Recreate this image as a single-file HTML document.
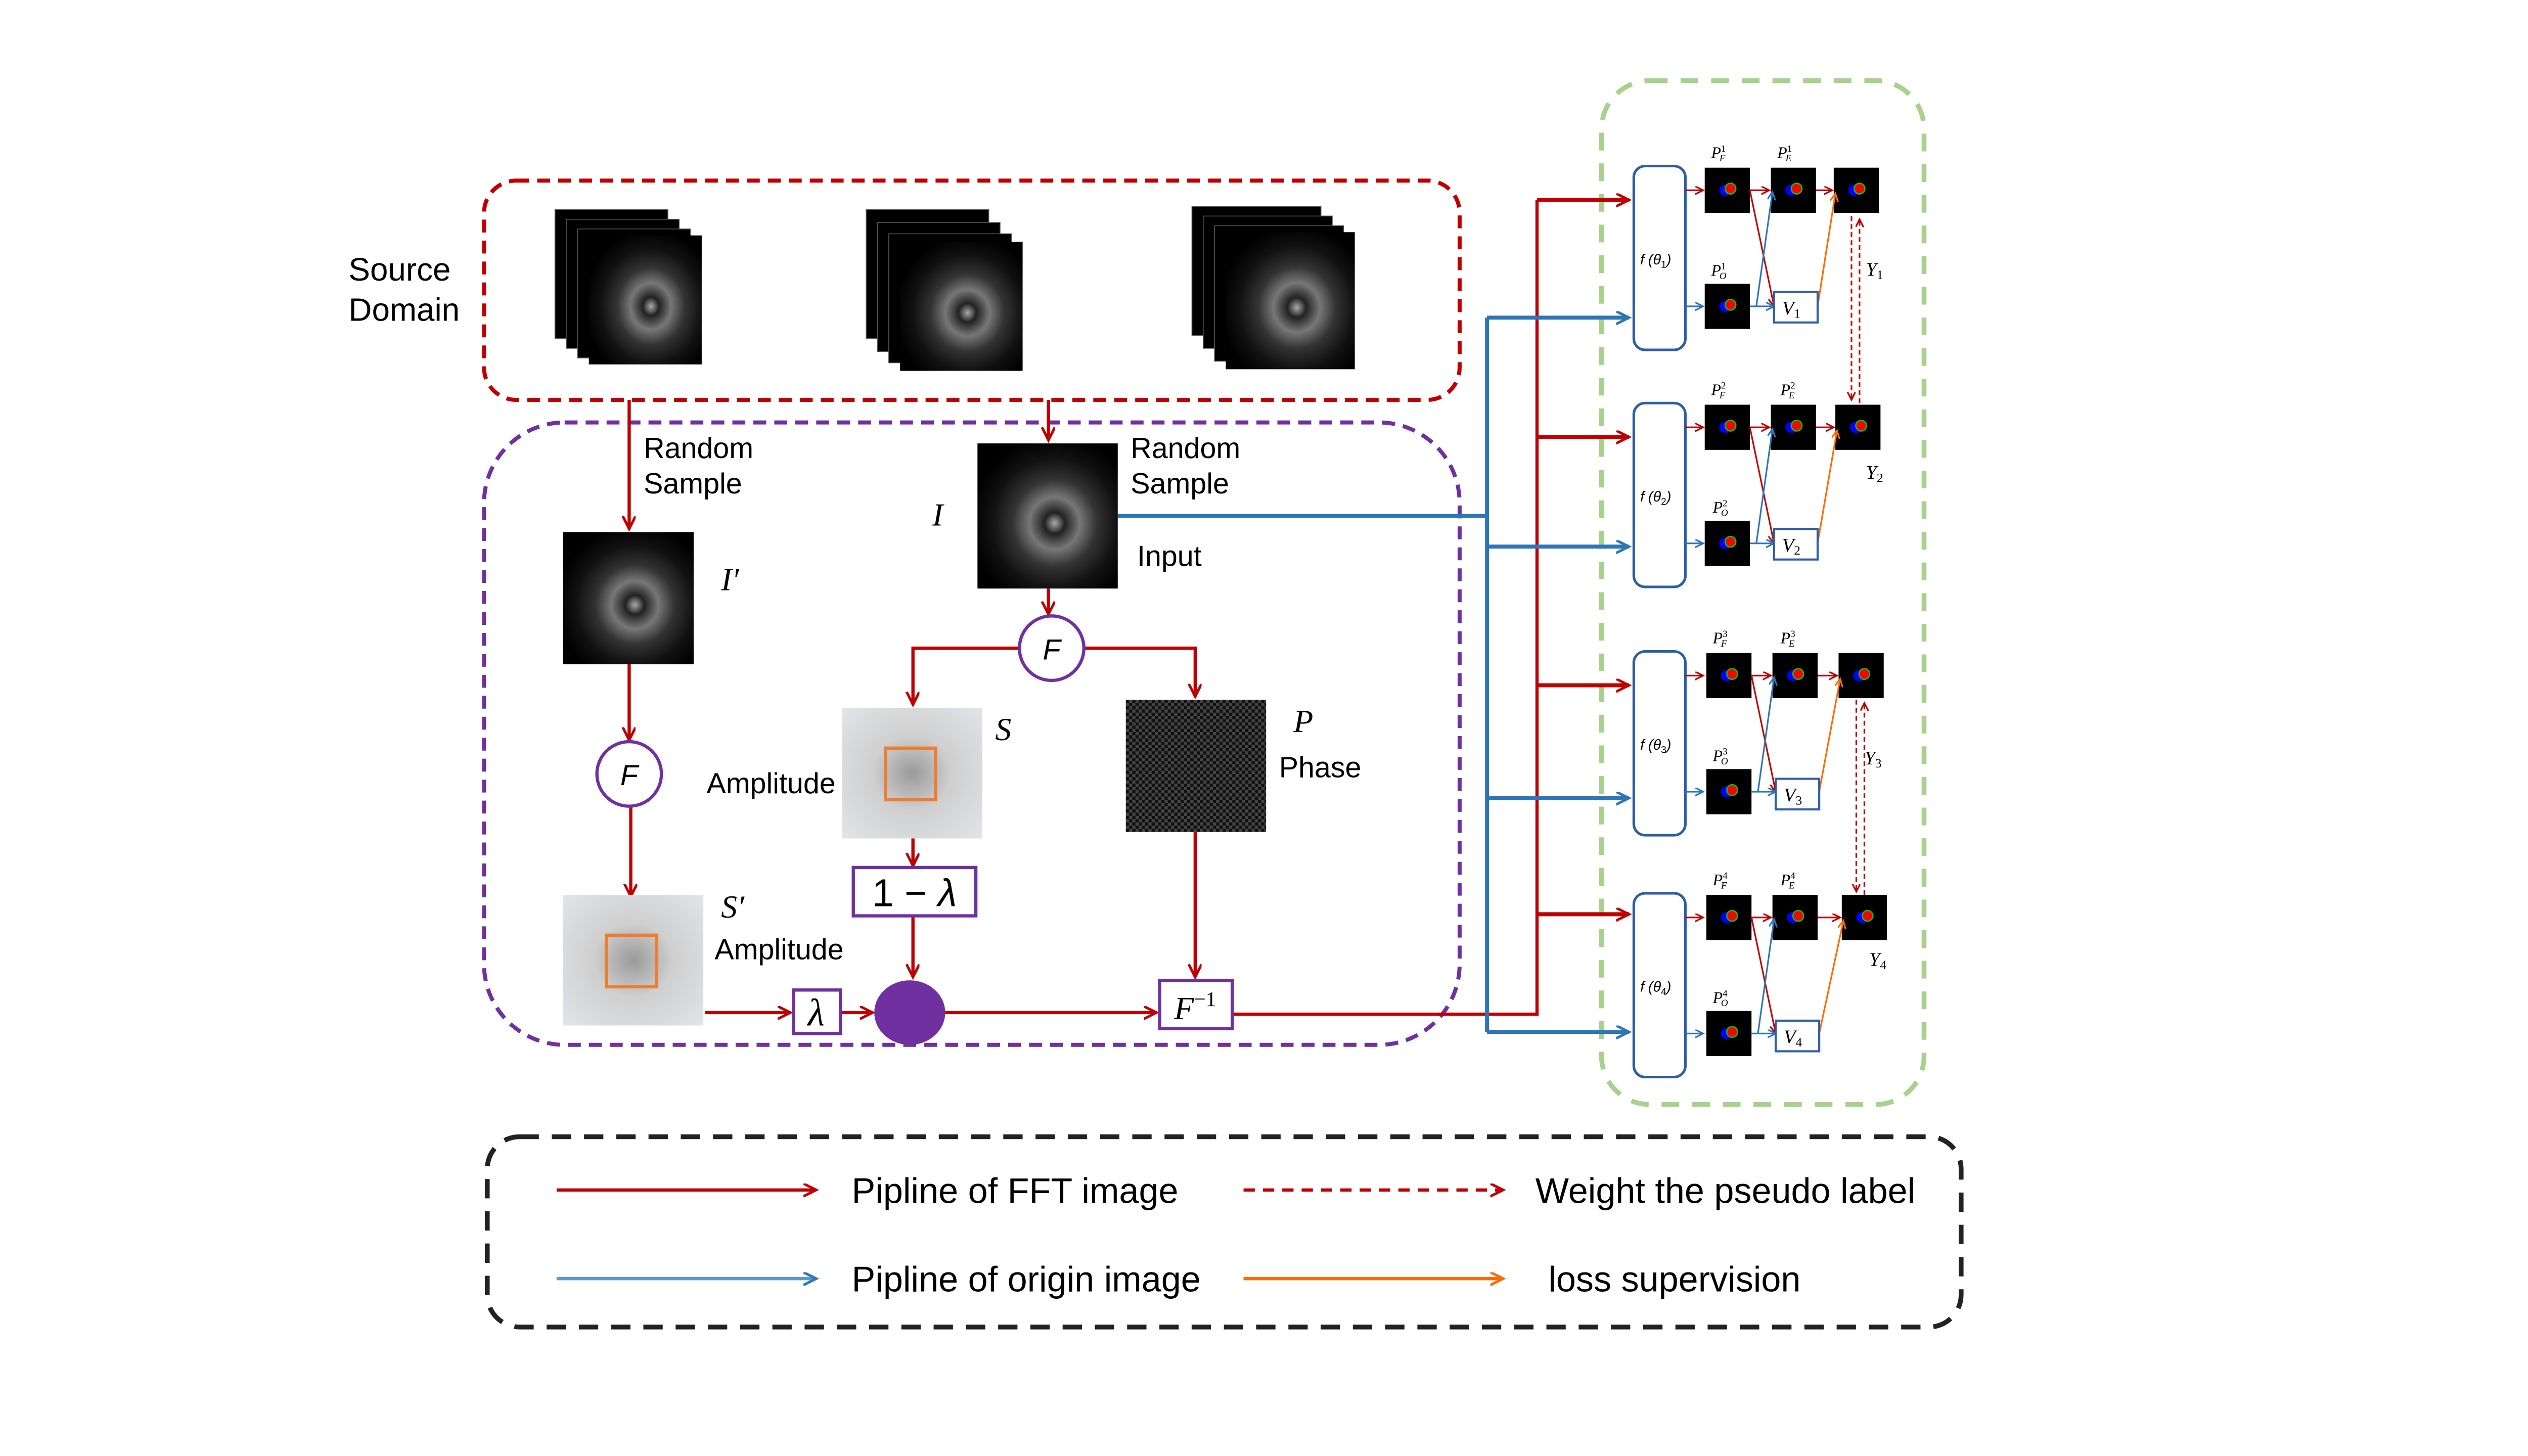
<!DOCTYPE html>
<html><head><meta charset="utf-8">
<style>html,body{margin:0;padding:0;background:#fff}svg{display:block}
text{font-family:"Liberation Sans",sans-serif}
.m{font-family:"Liberation Serif",serif;font-style:italic}</style></head>
<body>
<svg width="5120" height="2880" viewBox="0 0 1605 903" xmlns="http://www.w3.org/2000/svg">
<defs>
<marker id="ar" markerWidth="10" markerHeight="10" refX="8" refY="4" orient="auto" markerUnits="userSpaceOnUse"><path d="M0,0 L8,4 L0,8" fill="none" stroke="#c00000" stroke-width="1.6"/></marker>
<marker id="ab" markerWidth="10" markerHeight="10" refX="8" refY="4" orient="auto" markerUnits="userSpaceOnUse"><path d="M0,0 L8,4 L0,8" fill="none" stroke="#2e75b6" stroke-width="1.6"/></marker>
<marker id="ao" markerWidth="10" markerHeight="10" refX="8" refY="4" orient="auto" markerUnits="userSpaceOnUse"><path d="M0,0 L8,4 L0,8" fill="none" stroke="#ff6a00" stroke-width="1.6"/></marker>
<marker id="sr" markerWidth="6" markerHeight="6" refX="5" refY="2.5" orient="auto" markerUnits="userSpaceOnUse"><path d="M0,0 L5,2.5 L0,5" fill="none" stroke="#c00000" stroke-width="1"/></marker>
<marker id="sb" markerWidth="6" markerHeight="6" refX="5" refY="2.5" orient="auto" markerUnits="userSpaceOnUse"><path d="M0,0 L5,2.5 L0,5" fill="none" stroke="#2e75b6" stroke-width="1"/></marker>
<marker id="so" markerWidth="6" markerHeight="6" refX="5" refY="2.5" orient="auto" markerUnits="userSpaceOnUse"><path d="M0,0 L5,2.5 L0,5" fill="none" stroke="#ff6a00" stroke-width="1"/></marker>
<radialGradient id="mri" cx="0.55" cy="0.55" r="0.6"><stop offset="0" stop-color="#aaa"/><stop offset="0.12" stop-color="#222"/><stop offset="0.3" stop-color="#777"/><stop offset="0.5" stop-color="#333"/><stop offset="0.75" stop-color="#111"/><stop offset="1" stop-color="#000"/></radialGradient>
<radialGradient id="amp" cx="0.5" cy="0.5" r="0.7"><stop offset="0" stop-color="#9a9a9a"/><stop offset="0.4" stop-color="#cfcfcf"/><stop offset="1" stop-color="#e2e4e8"/></radialGradient>
<pattern id="chk" width="4" height="4" patternUnits="userSpaceOnUse"><rect width="4" height="4" fill="#444"/><rect width="2" height="2" fill="#111"/><rect x="2" y="2" width="2" height="2" fill="#111"/></pattern>
<g id="seg"><rect width="28" height="28" fill="#000"/><ellipse cx="13" cy="14" rx="4" ry="3.5" fill="#00f"/><circle cx="16" cy="13" r="3.3" fill="#f00" stroke="#0c0" stroke-width="0.8"/></g>
</defs>

<rect x="300" y="112" width="605" height="136" rx="20" fill="none" stroke="#c00000" stroke-width="2.5" stroke-dasharray="8,5"/>
<rect x="300" y="262" width="605" height="386" rx="50" fill="none" stroke="#7030a0" stroke-width="2.5" stroke-dasharray="8,5"/>
<rect x="993" y="50" width="200" height="635" rx="30" fill="none" stroke="#a9d18e" stroke-width="3" stroke-dasharray="11,8"/>
<rect x="302" y="705" width="914" height="118" rx="20" fill="none" stroke="#222" stroke-width="3" stroke-dasharray="12,8"/>

<text x="216" y="174" font-size="20">Source</text>
<text x="216" y="199" font-size="20">Domain</text>

<g><rect x="344" y="130" width="70" height="80" fill="#000" stroke="#555" stroke-width="0.5"/><rect x="351" y="136" width="70" height="80" fill="#000" stroke="#555" stroke-width="0.5"/><rect x="358" y="142" width="70" height="80" fill="#000" stroke="#555" stroke-width="0.5"/><rect x="365" y="146" width="70" height="80" fill="url(#mri)"/></g>
<g><rect x="537" y="130" width="76" height="80" fill="#000" stroke="#555" stroke-width="0.5"/><rect x="544" y="138" width="76" height="80" fill="#000" stroke="#555" stroke-width="0.5"/><rect x="551" y="145" width="76" height="80" fill="#000" stroke="#555" stroke-width="0.5"/><rect x="558" y="150" width="76" height="80" fill="url(#mri)"/></g>
<g><rect x="739" y="128" width="80" height="80" fill="#000" stroke="#555" stroke-width="0.5"/><rect x="746" y="134" width="80" height="82" fill="#000" stroke="#555" stroke-width="0.5"/><rect x="753" y="140" width="80" height="84" fill="#000" stroke="#555" stroke-width="0.5"/><rect x="760" y="144" width="80" height="85" fill="url(#mri)"/></g>

<g stroke="#c00000" stroke-width="2" fill="none">
<line x1="390" y1="248" x2="390" y2="328" marker-end="url(#ar)"/>
<line x1="650" y1="248" x2="650" y2="273" marker-end="url(#ar)"/>
<line x1="650" y1="365" x2="650" y2="381" marker-end="url(#ar)"/>
<polyline points="632,402 566,402 566,437" marker-end="url(#ar)"/>
<polyline points="672,402 741,402 741,432" marker-end="url(#ar)"/>
<line x1="390" y1="412" x2="390" y2="459" marker-end="url(#ar)"/>
<line x1="391" y1="500" x2="391" y2="556" marker-end="url(#ar)"/>
<line x1="566" y1="520" x2="566" y2="537" marker-end="url(#ar)"/>
<line x1="566" y1="568" x2="566" y2="606" marker-end="url(#ar)"/>
<line x1="437" y1="628" x2="490" y2="628" marker-end="url(#ar)"/>
<line x1="521" y1="628" x2="541" y2="628" marker-end="url(#ar)"/>
<line x1="586" y1="628" x2="717" y2="628" marker-end="url(#ar)"/>
<line x1="741" y1="516" x2="741" y2="606" marker-end="url(#ar)"/>
<polyline points="764,629 953,629 953,124"/>
</g>
<g stroke="#c00000" stroke-width="2.5" fill="none">
<line x1="953" y1="124" x2="1010" y2="124" marker-end="url(#ar)"/>
<line x1="953" y1="271" x2="1010" y2="271" marker-end="url(#ar)"/>
<line x1="953" y1="425" x2="1010" y2="425" marker-end="url(#ar)"/>
<line x1="953" y1="567" x2="1010" y2="567" marker-end="url(#ar)"/>
</g>
<g stroke="#2e75b6" stroke-width="2.5" fill="none">
<polyline points="693,320 922,320"/>
<line x1="922" y1="197" x2="922" y2="640"/>
<line x1="922" y1="197" x2="1010" y2="197" marker-end="url(#ab)"/>
<line x1="922" y1="339" x2="1010" y2="339" marker-end="url(#ab)"/>
<line x1="922" y1="495" x2="1010" y2="495" marker-end="url(#ab)"/>
<line x1="922" y1="640" x2="1010" y2="640" marker-end="url(#ab)"/>
</g>

<rect x="349" y="330" width="81" height="82" fill="url(#mri)"/>
<rect x="606" y="275" width="87" height="90" fill="url(#mri)"/>
<text x="399" y="284" font-size="18">Random</text><text x="399" y="306" font-size="18">Sample</text>
<text x="701" y="284" font-size="18">Random</text><text x="701" y="306" font-size="18">Sample</text>
<text x="705" y="351" font-size="18">Input</text>
<text x="578" y="326" font-size="20" class="m">I</text>
<text x="447" y="366" font-size="20" class="m">I′</text>

<circle cx="652" cy="402" r="20" fill="#fff" stroke="#7030a0" stroke-width="2"/>
<text x="652" y="409" font-size="18" text-anchor="middle" font-style="italic">F</text>
<circle cx="390" cy="480" r="20" fill="#fff" stroke="#7030a0" stroke-width="2"/>
<text x="390" y="487" font-size="18" text-anchor="middle" font-style="italic">F</text>

<rect x="522" y="439" width="87" height="81" fill="url(#amp)"/>
<rect x="549" y="464" width="31" height="32" fill="none" stroke="#ed7d31" stroke-width="2"/>
<text x="617" y="459" font-size="20" class="m">S</text>
<text x="438" y="492" font-size="18">Amplitude</text>
<rect x="698" y="434" width="87" height="82" fill="url(#chk)"/>
<text x="802" y="454" font-size="20" class="m">P</text>
<text x="793" y="482" font-size="18">Phase</text>
<rect x="349" y="555" width="87" height="81" fill="url(#amp)"/>
<rect x="376" y="580" width="31" height="32" fill="none" stroke="#ed7d31" stroke-width="2"/>
<text x="447" y="569" font-size="20" class="m">S′</text>
<text x="443" y="595" font-size="18">Amplitude</text>

<rect x="529" y="538" width="76" height="30" fill="#fff" stroke="#7030a0" stroke-width="2"/>
<text x="567" y="562" font-size="24" text-anchor="middle" font-family="Liberation Serif,serif">1 − <tspan font-style="italic">λ</tspan></text>
<rect x="492" y="614" width="29" height="27" fill="#fff" stroke="#7030a0" stroke-width="2"/>
<text x="506" y="636" font-size="24" text-anchor="middle" class="m">λ</text>
<ellipse cx="564" cy="628" rx="22" ry="20" fill="#7030a0"/>
<rect x="719" y="608" width="45" height="30" fill="#fff" stroke="#7030a0" stroke-width="2"/>
<text x="728" y="632" font-size="20" class="m">F<tspan font-size="13" dy="-8" font-style="normal">−1</tspan></text>

<g>
<rect x="1013" y="103" width="32" height="114" rx="7" fill="#fff" stroke="#2e5ea8" stroke-width="1.6"/>
<line x1="1045" y1="118" x2="1056" y2="118" stroke="#c00000" stroke-width="1" marker-end="url(#sr)"/>
<line x1="1045" y1="190" x2="1056" y2="190" stroke="#2e75b6" stroke-width="1" marker-end="url(#sb)"/>
<use href="#seg" x="1057" y="104"/><use href="#seg" x="1098" y="104"/><use href="#seg" x="1137" y="104"/><use href="#seg" x="1057" y="176"/>
<line x1="1085" y1="118" x2="1097" y2="118" stroke="#c00000" stroke-width="1" marker-end="url(#sr)"/>
<line x1="1126" y1="118" x2="1136" y2="118" stroke="#c00000" stroke-width="1" marker-end="url(#sr)"/>
<line x1="1085" y1="118" x2="1100" y2="190" stroke="#c00000" stroke-width="1" marker-end="url(#sr)"/>
<polyline points="1085,190 1089,190 1099,119" fill="none" stroke="#2e75b6" stroke-width="1" marker-end="url(#sb)"/>
<line x1="1089" y1="190" x2="1100" y2="190" stroke="#2e75b6" stroke-width="1" marker-end="url(#sb)"/>
<line x1="1127" y1="190" x2="1138" y2="120" stroke="#ff6a00" stroke-width="1" marker-end="url(#so)"/>
<rect x="1100" y="181" width="27" height="19" fill="#fff" stroke="#2e5ea8" stroke-width="1.3"/>
<text x="1017" y="164" font-size="9" font-family="Liberation Serif,serif" font-style="italic">f (θ<tspan font-size="6" dy="2" font-style="normal">1</tspan><tspan dy="-2">)</tspan></text>
<text x="1105" y="195" font-size="12" class="m">V<tspan font-size="8" dy="2" font-style="normal">1</tspan></text>
<text x="1061" y="98" font-size="10" class="m">P<tspan font-size="6" dy="-4" font-style="normal">1</tspan><tspan font-size="6" dx="-4" dy="6">F</tspan></text>
<text x="1102" y="98" font-size="10" class="m">P<tspan font-size="6" dy="-4" font-style="normal">1</tspan><tspan font-size="6" dx="-4" dy="6">E</tspan></text>
<text x="1061" y="171" font-size="10" class="m">P<tspan font-size="6" dy="-4" font-style="normal">1</tspan><tspan font-size="6" dx="-4" dy="6">O</tspan></text>
<text x="1157" y="171" font-size="12" class="m">Y<tspan font-size="8" dy="2" font-style="normal">1</tspan></text>
</g>
<g transform="translate(0,147)">
<rect x="1013" y="103" width="32" height="114" rx="7" fill="#fff" stroke="#2e5ea8" stroke-width="1.6"/>
<line x1="1045" y1="118" x2="1056" y2="118" stroke="#c00000" stroke-width="1" marker-end="url(#sr)"/>
<line x1="1045" y1="190" x2="1056" y2="190" stroke="#2e75b6" stroke-width="1" marker-end="url(#sb)"/>
<use href="#seg" x="1057" y="104"/><use href="#seg" x="1098" y="104"/><use href="#seg" x="1138" y="104"/><use href="#seg" x="1057" y="176"/>
<line x1="1085" y1="118" x2="1097" y2="118" stroke="#c00000" stroke-width="1" marker-end="url(#sr)"/>
<line x1="1126" y1="118" x2="1137" y2="118" stroke="#c00000" stroke-width="1" marker-end="url(#sr)"/>
<line x1="1085" y1="118" x2="1100" y2="190" stroke="#c00000" stroke-width="1" marker-end="url(#sr)"/>
<polyline points="1085,190 1089,190 1099,119" fill="none" stroke="#2e75b6" stroke-width="1" marker-end="url(#sb)"/>
<line x1="1089" y1="190" x2="1100" y2="190" stroke="#2e75b6" stroke-width="1" marker-end="url(#sb)"/>
<line x1="1127" y1="190" x2="1139" y2="120" stroke="#ff6a00" stroke-width="1" marker-end="url(#so)"/>
<rect x="1100" y="181" width="27" height="19" fill="#fff" stroke="#2e5ea8" stroke-width="1.3"/>
<text x="1017" y="164" font-size="9" font-family="Liberation Serif,serif" font-style="italic">f (θ<tspan font-size="6" dy="2" font-style="normal">2</tspan><tspan dy="-2">)</tspan></text>
<text x="1105" y="195" font-size="12" class="m">V<tspan font-size="8" dy="2" font-style="normal">2</tspan></text>
<text x="1061" y="98" font-size="10" class="m">P<tspan font-size="6" dy="-4" font-style="normal">2</tspan><tspan font-size="6" dx="-4" dy="6">F</tspan></text>
<text x="1104" y="98" font-size="10" class="m">P<tspan font-size="6" dy="-4" font-style="normal">2</tspan><tspan font-size="6" dx="-4" dy="6">E</tspan></text>
<text x="1062" y="171" font-size="10" class="m">P<tspan font-size="6" dy="-4" font-style="normal">2</tspan><tspan font-size="6" dx="-4" dy="6">O</tspan></text>
<text x="1157" y="150" font-size="12" class="m">Y<tspan font-size="8" dy="2" font-style="normal">2</tspan></text>
</g>
<g transform="translate(0,301)">
<rect x="1013" y="103" width="32" height="114" rx="7" fill="#fff" stroke="#2e5ea8" stroke-width="1.6"/>
<line x1="1045" y1="118" x2="1056" y2="118" stroke="#c00000" stroke-width="1" marker-end="url(#sr)"/>
<line x1="1045" y1="190" x2="1056" y2="190" stroke="#2e75b6" stroke-width="1" marker-end="url(#sb)"/>
<use href="#seg" x="1058" y="104"/><use href="#seg" x="1099" y="104"/><use href="#seg" x="1140" y="104"/><use href="#seg" x="1058" y="176"/>
<line x1="1086" y1="118" x2="1098" y2="118" stroke="#c00000" stroke-width="1" marker-end="url(#sr)"/>
<line x1="1127" y1="118" x2="1139" y2="118" stroke="#c00000" stroke-width="1" marker-end="url(#sr)"/>
<line x1="1086" y1="118" x2="1101" y2="190" stroke="#c00000" stroke-width="1" marker-end="url(#sr)"/>
<polyline points="1086,190 1090,190 1100,119" fill="none" stroke="#2e75b6" stroke-width="1" marker-end="url(#sb)"/>
<line x1="1090" y1="190" x2="1101" y2="190" stroke="#2e75b6" stroke-width="1" marker-end="url(#sb)"/>
<line x1="1128" y1="190" x2="1141" y2="120" stroke="#ff6a00" stroke-width="1" marker-end="url(#so)"/>
<rect x="1101" y="182" width="27" height="19" fill="#fff" stroke="#2e5ea8" stroke-width="1.3"/>
<text x="1017" y="164" font-size="9" font-family="Liberation Serif,serif" font-style="italic">f (θ<tspan font-size="6" dy="2" font-style="normal">3</tspan><tspan dy="-2">)</tspan></text>
<text x="1106" y="196" font-size="12" class="m">V<tspan font-size="8" dy="2" font-style="normal">3</tspan></text>
<text x="1062" y="98" font-size="10" class="m">P<tspan font-size="6" dy="-4" font-style="normal">3</tspan><tspan font-size="6" dx="-4" dy="6">F</tspan></text>
<text x="1104" y="98" font-size="10" class="m">P<tspan font-size="6" dy="-4" font-style="normal">3</tspan><tspan font-size="6" dx="-4" dy="6">E</tspan></text>
<text x="1062" y="171" font-size="10" class="m">P<tspan font-size="6" dy="-4" font-style="normal">3</tspan><tspan font-size="6" dx="-4" dy="6">O</tspan></text>
<text x="1156" y="173" font-size="12" class="m">Y<tspan font-size="8" dy="2" font-style="normal">3</tspan></text>
</g>
<g transform="translate(0,451)">
<rect x="1013" y="103" width="32" height="114" rx="7" fill="#fff" stroke="#2e5ea8" stroke-width="1.6"/>
<line x1="1045" y1="118" x2="1056" y2="118" stroke="#c00000" stroke-width="1" marker-end="url(#sr)"/>
<line x1="1045" y1="190" x2="1056" y2="190" stroke="#2e75b6" stroke-width="1" marker-end="url(#sb)"/>
<use href="#seg" x="1058" y="104"/><use href="#seg" x="1099" y="104"/><use href="#seg" x="1142" y="104"/><use href="#seg" x="1058" y="176"/>
<line x1="1086" y1="118" x2="1098" y2="118" stroke="#c00000" stroke-width="1" marker-end="url(#sr)"/>
<line x1="1127" y1="118" x2="1141" y2="118" stroke="#c00000" stroke-width="1" marker-end="url(#sr)"/>
<line x1="1086" y1="118" x2="1101" y2="190" stroke="#c00000" stroke-width="1" marker-end="url(#sr)"/>
<polyline points="1086,190 1090,190 1100,119" fill="none" stroke="#2e75b6" stroke-width="1" marker-end="url(#sb)"/>
<line x1="1090" y1="190" x2="1101" y2="190" stroke="#2e75b6" stroke-width="1" marker-end="url(#sb)"/>
<line x1="1128" y1="190" x2="1143" y2="120" stroke="#ff6a00" stroke-width="1" marker-end="url(#so)"/>
<rect x="1101" y="182" width="27" height="19" fill="#fff" stroke="#2e5ea8" stroke-width="1.3"/>
<text x="1017" y="164" font-size="9" font-family="Liberation Serif,serif" font-style="italic">f (θ<tspan font-size="6" dy="2" font-style="normal">4</tspan><tspan dy="-2">)</tspan></text>
<text x="1106" y="196" font-size="12" class="m">V<tspan font-size="8" dy="2" font-style="normal">4</tspan></text>
<text x="1062" y="98" font-size="10" class="m">P<tspan font-size="6" dy="-4" font-style="normal">4</tspan><tspan font-size="6" dx="-4" dy="6">F</tspan></text>
<text x="1104" y="98" font-size="10" class="m">P<tspan font-size="6" dy="-4" font-style="normal">4</tspan><tspan font-size="6" dx="-4" dy="6">E</tspan></text>
<text x="1062" y="171" font-size="10" class="m">P<tspan font-size="6" dy="-4" font-style="normal">4</tspan><tspan font-size="6" dx="-4" dy="6">O</tspan></text>
<text x="1159" y="148" font-size="12" class="m">Y<tspan font-size="8" dy="2" font-style="normal">4</tspan></text>
</g>
<g stroke="#c00000" stroke-width="1" stroke-dasharray="3,2" fill="none">
<line x1="1148" y1="134" x2="1148" y2="248" marker-end="url(#sr)"/>
<line x1="1153" y1="250" x2="1153" y2="136" marker-end="url(#sr)"/>
<line x1="1151" y1="434" x2="1151" y2="553" marker-end="url(#sr)"/>
<line x1="1156" y1="555" x2="1156" y2="436" marker-end="url(#sr)"/>
</g>

<line x1="345" y1="738" x2="506" y2="738" stroke="#c00000" stroke-width="2" marker-end="url(#ar)"/>
<text x="528" y="746" font-size="22">Pipline of FFT image</text>
<line x1="771" y1="738" x2="932" y2="738" stroke="#c00000" stroke-width="2" stroke-dasharray="7,5" marker-end="url(#ar)"/>
<text x="952" y="746" font-size="22">Weight the pseudo label</text>
<line x1="345" y1="793" x2="506" y2="793" stroke="#5b9bd5" stroke-width="2" marker-end="url(#ab)"/>
<text x="528" y="801" font-size="22">Pipline of origin image</text>
<line x1="771" y1="793" x2="932" y2="793" stroke="#ff6a00" stroke-width="2" marker-end="url(#ao)"/>
<text x="960" y="801" font-size="22">loss supervision</text>
</svg>
</body></html>
